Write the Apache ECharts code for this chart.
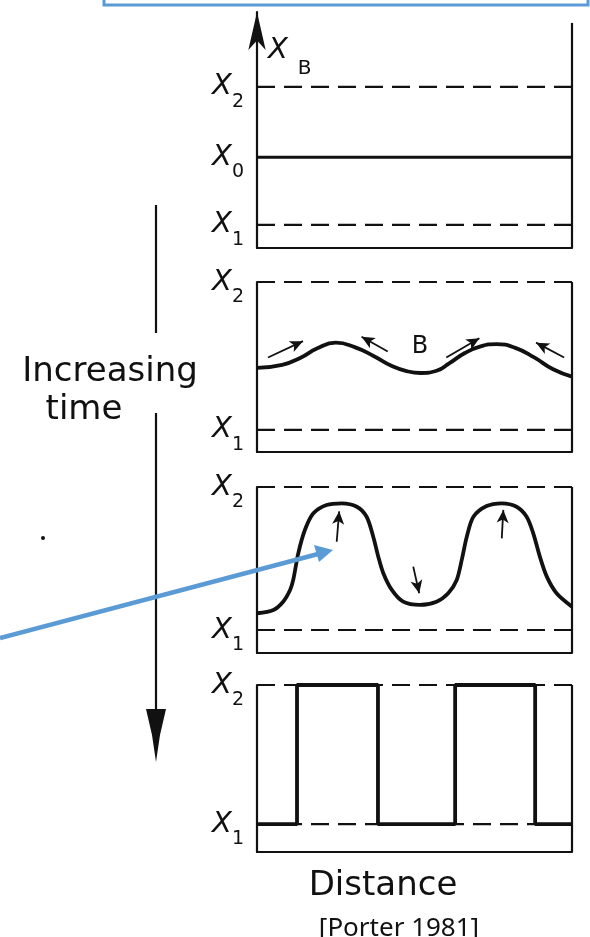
<!DOCTYPE html>
<html>
<head>
<meta charset="utf-8">
<script src="https://cdn.jsdelivr.net/npm/echarts@6/dist/echarts.min.js"></script>
<style>
html,body{margin:0;padding:0;background:#fff;}
#chart{width:590px;height:937px;}
</style>
</head>
<body>
<div id="chart"></div>
<script>
// ---- data (distance 0..100 across the box, composition with X1 = 1, X2 = 2) ----
const X1 = 1, X2 = 2, X0 = 1.49;
const panel1Labels = [[X1, '1'], [X0, '0'], [X2, '2']];
const panelLabels = [[X1, '1'], [X2, '2']];

const curve2 = [[0,1.42],[8,1.44],[14,1.49],[19,1.55],[25,1.59],[31,1.56],[37,1.50],[43,1.43],
  [48,1.395],[52,1.385],[57,1.40],[61,1.45],[66,1.52],[71,1.565],[76,1.58],[82,1.555],[88,1.49],[94,1.41],[100,1.36]];
const arrows2 = [[[3.5,1.49],[14.6,1.60]],[[41.5,1.53],[33.2,1.63]],[[60.1,1.49],[70.6,1.62]],[[97.5,1.49],[88.6,1.59]]];

const curve3 = [[0,1.117],[5.2,1.14],[8.3,1.198],[10.5,1.28],[11.5,1.35],[13.1,1.536],[15.2,1.699],[17.9,1.816],
  [22.1,1.874],[26.9,1.886],[31.7,1.862],[34.8,1.792],[36.9,1.652],[38.5,1.513],[40.1,1.397],[42.8,1.28],
  [46.4,1.198],[51.7,1.175],[57.0,1.198],[60.7,1.257],[63.4,1.35],[65.0,1.49],[66.6,1.652],[68.7,1.792],
  [72.9,1.867],[77.7,1.886],[82.4,1.862],[85.6,1.792],[87.7,1.676],[89.8,1.513],[92.0,1.373],[95.1,1.257],[100,1.163]];
const arrows3 = [[[25.3,1.617],[26.1,1.83]],[[77.7,1.641],[78.2,1.84]],[[49.6,1.443],[51.5,1.257]]];

const step4 = [[0,1],[12.7,1],[12.7,2],[38.4,2],[38.4,1],[62.9,1],[62.9,2],[88.3,2],[88.3,1],[100,1]];

// ---- layout ----
const panels = [
  {top:12, height:236, min:0.833, max:2.543, edgeTop:2.464, labels:panel1Labels},
  {top:282, height:170, min:0.851, max:2, edgeTop:2, labels:panelLabels},
  {top:487, height:166, min:0.839, max:2, edgeTop:2, labels:panelLabels},
  {top:685, height:167, min:0.799, max:2, edgeTop:2, labels:panelLabels}
];
const INK = '#111';
const dash = [18, 9];

const grids = [], xAxes = [], yAxes = [], series = [];
panels.forEach((p, i) => {
  grids.push({left:257, right:18, top:p.top, height:p.height, show:false});
  xAxes.push({type:'value', gridIndex:i, min:0, max:100, axisLine:{show:true, onZero:false, lineStyle:{color:INK, width:2.2}},
    axisTick:{show:false}, axisLabel:{show:false}, splitLine:{show:false}});
  const lab = {};
  p.labels.forEach(l => lab[l[0]] = l[1]);
  yAxes.push({type:'value', gridIndex:i, min:p.min, max:p.max,
    axisLine:{show:true, onZero:false, lineStyle:{color:INK, width:2.2},
      symbol: i === 0 ? ['none','arrow'] : ['none','none'], symbolSize:[13,38]},
    axisTick:{show:false}, splitLine:{show:false},
    axisLabel:{show:true, margin:13, customValues:p.labels.map(l => l[0]),
      formatter: v => { for (const k in lab) { if (Math.abs(k - v) < 1e-6) return '{x|X}{s|' + lab[k] + '}'; } return ''; },
      rich:{
        x:{fontFamily:'DejaVu Sans', fontStyle:'italic', fontSize:29, lineHeight:29, color:INK},
        s:{fontFamily:'DejaVu Sans', fontSize:19, lineHeight:19, padding:[30,0,0,0], color:INK}
      }}
  });
  const base = {type:'line', xAxisIndex:i, yAxisIndex:i, symbol:'none', clip:false, silent:true, animation:false, z:3};
  series.push(Object.assign({}, base, {data:[[0,X2],[100,X2]], lineStyle:{color:INK, width:2.2, type:dash}}));
  series.push(Object.assign({}, base, {data:[[0,X1],[100,X1]], lineStyle:{color:INK, width:2.2, type:dash}}));
  series.push(Object.assign({}, base, {data:[[100,p.min],[100,p.edgeTop]], lineStyle:{color:INK, width:2.2}}));
});

const base = (i) => ({type:'line', xAxisIndex:i, yAxisIndex:i, symbol:'none', clip:false, silent:true, animation:false, z:4});
const arrowMark = (arr) => ({symbol:['none','arrow'], symbolSize:[9,13], silent:true, animation:false,
  label:{show:false}, lineStyle:{color:INK, width:1.8, type:'solid'},
  data: arr.map(a => [{coord:a[0]}, {coord:a[1]}])});

series.push(Object.assign(base(0), {data:[[0,X0],[100,X0]], lineStyle:{color:INK, width:3}}));
series.push(Object.assign(base(1), {data:curve2, smooth:0.5, lineStyle:{color:INK, width:3.8}, markLine:arrowMark(arrows2)}));
series.push(Object.assign(base(2), {data:curve3, smooth:0.3, lineStyle:{color:INK, width:3.8}, markLine:arrowMark(arrows3)}));
series.push(Object.assign(base(3), {data:step4, lineStyle:{color:INK, width:3.8}}));

const txt = (text, x, y, size, align, family, extra) => Object.assign({type:'text', x:x, y:y, z:50, silent:true,
  style:Object.assign({text:text, fontSize:size, fontFamily:family || 'DejaVu Sans', fill:INK, align:align || 'center', verticalAlign:'middle'}, extra || {})});

const BLUE = '#5B9BD5';
const graphic = [
  {type:'rect', z:60, silent:true, shape:{x:104, y:-10, width:484, height:15}, style:{fill:'none', stroke:BLUE, lineWidth:3}},
  {type:'line', z:50, silent:true, shape:{x1:156, y1:205, x2:156, y2:333}, style:{stroke:INK, lineWidth:2.2}},
  {type:'line', z:50, silent:true, shape:{x1:156, y1:413, x2:156, y2:712}, style:{stroke:INK, lineWidth:2.2}},
  {type:'polygon', z:50, silent:true, shape:{points:[[146,709],[166,709],[160,735],[156,762],[152,735]]}, style:{fill:INK}},
  {type:'circle', z:50, silent:true, shape:{cx:43, cy:538, r:2}, style:{fill:INK}},
  txt('Increasing', 110, 372, 34),
  txt('time', 84, 410, 34),
  txt('B', 420, 347, 24),
  txt('Distance', 383, 886, 34),
  txt('[Porter 1981]', 399, 929, 26, 'center', 'Noto Sans'),
  {type:'text', x:268, y:50, z:50, silent:true, style:{text:'{x|X}{s|B}', align:'left', verticalAlign:'middle',
    rich:{x:{fontFamily:'DejaVu Sans', fontStyle:'italic', fontSize:29, lineHeight:29, fill:INK},
          s:{fontFamily:'DejaVu Sans', fontSize:20, lineHeight:20, padding:[38,0,0,10], fill:INK}}}},
  {type:'line', z:70, silent:true, shape:{x1:0, y1:638, x2:318, y2:554}, style:{stroke:BLUE, lineWidth:4.5}},
  {type:'polygon', z:70, silent:true, shape:{points:[[333,550],[319,562],[314,545]]}, style:{fill:BLUE}}
];

const chart = echarts.init(document.getElementById('chart'), null, {renderer:'canvas'});
chart.setOption({animation:false, backgroundColor:'#fff', grid:grids, xAxis:xAxes, yAxis:yAxes, series:series, graphic:graphic});
</script>
</body>
</html>
